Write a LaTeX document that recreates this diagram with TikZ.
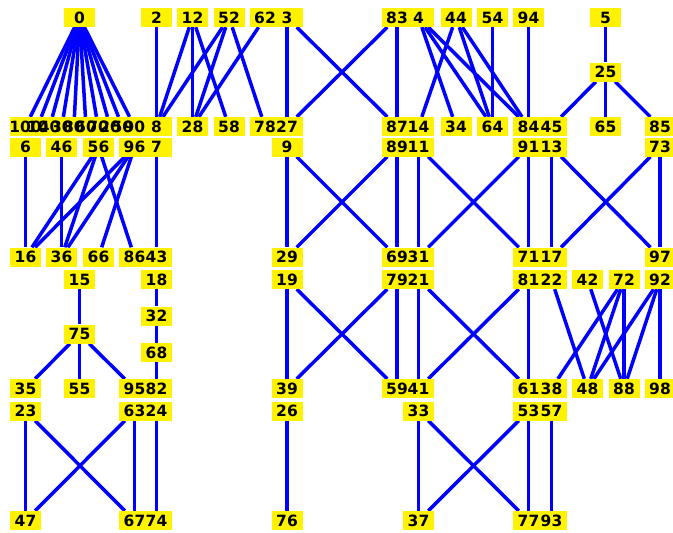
\documentclass[tikz,border=0pt]{standalone}
\usepackage{fontspec}
\setmainfont{DejaVu Sans}
\pgfdeclarelayer{background}
\pgfsetlayers{background,main}
\begin{document}
\begin{tikzpicture}[x=1pt,y=-1pt,
  box/.style={fill=yellow, draw=none, minimum width=31pt, minimum height=19pt, inner sep=0pt},
  lbl/.style={font=\bfseries\fontsize{15.5}{16}\selectfont, inner sep=0pt, text=black},
  edge/.style={draw=blue, line width=3.5pt}]
\useasboundingbox (0,0) rectangle (673,533);
% boxes
\foreach \n/\x/\y in {
  0/79.5/17.5, 2/156.5/17.5, 12/192.5/17.5, 52/229/17.5, 62/265/17.5, 3/287/17.5,
  83/397/17.5, 4/418.5/17.5, 44/456/17.5, 54/492.5/17.5, 94/528.5/17.5, 5/605.5/17.5,
  25/605.5/72,
  100/25.5/126.5, 10/37.6/126.5, 40/49.7/126.5, 30/61.8/126.5, 80/73.9/126.5,
  60/86/126.5, 70/98.1/126.5, 20/110.2/126.5, 50/122.3/126.5, 90/134.4/126.5,
  8/156.5/126.5, 28/192.5/126.5, 58/229/126.5, 78/265/126.5, 27/287/126.5,
  87/397/126.5, 14/418.5/126.5, 34/456/126.5, 64/492.5/126.5, 84/528.5/126.5,
  45/551.5/126.5, 65/605.5/126.5, 85/660/126.5,
  6/25.5/147, 46/61.5/147, 56/98.5/147, 96/134.5/147, 7/156.5/147, 9/287/147,
  89/397/147, 11/418.5/147, 91/528.5/147, 13/551.5/147, 73/660/147,
  16/25.5/257, 36/61.5/257, 66/98.5/257, 86/134.5/257, 43/156.5/257, 29/287/257,
  69/397/257, 31/418.5/257, 71/528.5/257, 17/551.5/257, 97/660/257,
  15/79.5/279.5, 18/156.5/279.5, 19/287/279.5, 79/397/279.5, 21/418.5/279.5,
  81/528.5/279.5, 22/551.5/279.5, 42/587.5/279.5, 72/624/279.5, 92/660/279.5,
  32/156.5/316, 75/79.5/334, 68/156.5/352.5,
  35/25.5/388.5, 55/79.5/388.5, 95/134.5/388.5, 82/156.5/388.5, 39/287/388.5,
  59/397/388.5, 41/418.5/388.5, 61/528.5/388.5, 38/551.5/388.5, 48/587.5/388.5,
  88/624/388.5, 98/660/388.5,
  23/25.5/411, 63/134.5/411, 24/156.5/411, 26/287/411, 33/418.5/411, 53/528.5/411,
  57/551.5/411,
  47/25.5/520.5, 67/134.5/520.5, 74/156.5/520.5, 76/287/520.5, 37/418.5/520.5,
  77/528.5/520.5, 93/551.5/520.5}
  \node[box] (n\n) at (\x,\y) {};
% edges
\begin{pgfonlayer}{background}
\foreach \a/\b in {
  0/100, 0/10, 0/40, 0/30, 0/80, 0/60, 0/70, 0/20, 0/50, 0/90,
  2/8, 12/8, 12/28, 12/58, 52/8, 52/28, 52/78, 62/28,
  3/27, 3/87, 83/27, 83/87,
  4/64, 4/34, 4/84, 44/14, 44/64, 44/84, 54/64, 94/84,
  5/25, 25/45, 25/65, 25/85,
  6/16, 46/36, 56/16, 56/36, 56/86, 96/16, 96/36, 96/66,
  7/43,
  9/29, 9/69, 89/29, 89/69,
  11/31, 11/71, 91/31, 91/71,
  13/17, 13/97, 73/17, 73/97,
  15/75, 75/35, 75/55, 75/95,
  18/32, 32/68, 68/82,
  19/39, 19/59, 79/59, 79/39,
  21/41, 21/61, 81/41, 81/61,
  22/48, 72/38, 72/48, 72/88, 42/88, 92/48, 92/88, 92/98,
  23/47, 23/67, 63/47, 63/67,
  24/74, 26/76,
  33/37, 33/77, 53/37, 53/77,
  57/93}
  \draw[edge] (n\a) -- (n\b);
\end{pgfonlayer}
% labels
\foreach \n in {0,2,12,52,62,3,83,4,44,54,94,5,25,
  100,10,40,30,80,60,70,20,50,90,8,28,58,78,27,87,14,34,64,84,45,65,85,
  6,46,56,96,7,9,89,11,91,13,73,
  16,36,66,86,43,29,69,31,71,17,97,
  15,18,19,79,21,81,22,42,72,92,32,75,68,
  35,55,95,82,39,59,41,61,38,48,88,98,
  23,63,24,26,33,53,57,
  47,67,74,76,37,77,93}
  \node[lbl] at (n\n) {\n};
\end{tikzpicture}
\end{document}
